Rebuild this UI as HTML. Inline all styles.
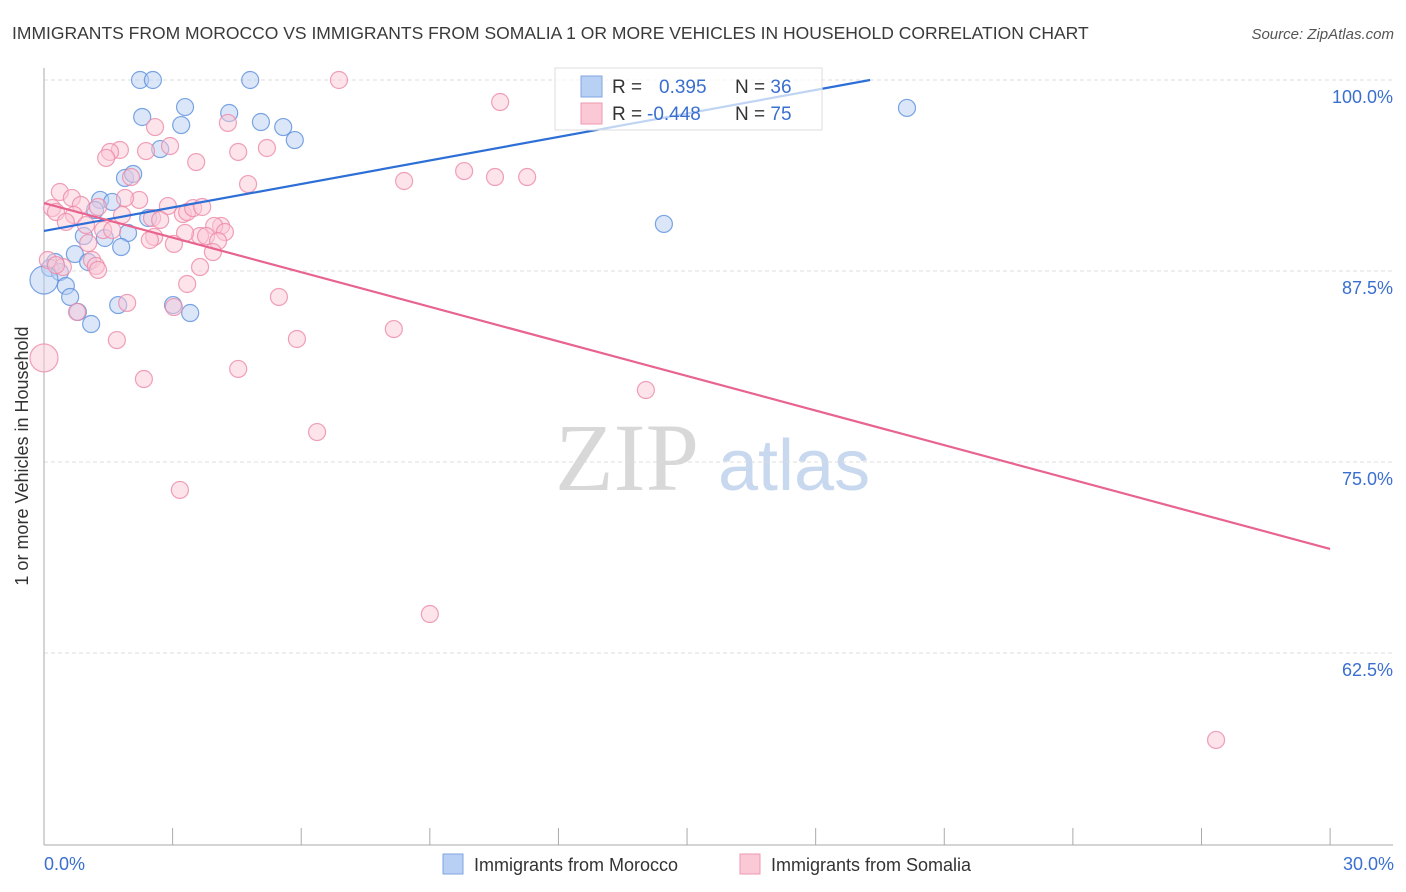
<!DOCTYPE html>
<html><head><meta charset="utf-8"><style>
body{margin:0;background:#fff;font-family:"Liberation Sans",sans-serif;}
svg{display:block}
</style></head><body>
<svg width="1406" height="892">
<text x="12" y="39" font-size="17.5" fill="#3a3a3a">IMMIGRANTS FROM MOROCCO VS IMMIGRANTS FROM SOMALIA 1 OR MORE VEHICLES IN HOUSEHOLD CORRELATION CHART</text>
<text x="1394" y="39" font-size="15" font-style="italic" fill="#555" text-anchor="end">Source: ZipAtlas.com</text>
<text x="555" y="490" font-size="96" font-family="Liberation Serif, serif" fill="#d8d8d8">ZIP</text>
<text x="718" y="490" font-size="72" fill="#c8d8ee">atlas</text>
<g id="grid"></g>
<g id="axes"></g>
<g id="pts"></g>
<g id="lines"></g>
<rect x="555" y="68" width="267" height="62" fill="#fff" fill-opacity="0.7" stroke="#ddd"/>
<rect x="581" y="76" width="21" height="21" fill="#b8d0f4" stroke="#7fa6e0"/>
<rect x="581" y="103" width="21" height="21" fill="#fbc8d6" stroke="#ec9ab2"/>
<text x="612" y="93" font-size="19" fill="#333">R = <tspan x="659" fill="#3a6fd0">0.395</tspan><tspan x="735" fill="#333">N = </tspan><tspan fill="#3a6fd0">36</tspan></text>
<text x="612" y="120" font-size="19" fill="#333">R = <tspan x="647" fill="#3a6fd0">-0.448</tspan><tspan x="735" fill="#333">N = </tspan><tspan fill="#3a6fd0">75</tspan></text>
<text x="22" y="456" font-size="18" fill="#333" transform="rotate(-90 22 456)" text-anchor="middle" dy="6">1 or more Vehicles in Household</text>
<text x="44" y="870" font-size="18" fill="#3a6fd0">0.0%</text>
<text x="1394" y="870" font-size="18" fill="#3a6fd0" text-anchor="end">30.0%</text>
<rect x="443" y="854" width="20" height="20" fill="#b8d0f4" stroke="#7fa6e0"/>
<text x="474" y="871" font-size="18" fill="#333">Immigrants from Morocco</text>
<rect x="740" y="854" width="20" height="20" fill="#fbc8d6" stroke="#ec9ab2"/>
<text x="771" y="871" font-size="18" fill="#333">Immigrants from Somalia</text>
</svg>
<script>
const yTicks=[100,87.5,75,62.5];
const yTickLabels=["100.0%","87.5%","75.0%","62.5%"];
const xTicks=[0,3,6,9,12,15,18,21,24,27,30];
const moroccoX=[2.24,2.54,4.81,3.29,2.29,4.32,3.20,5.06,5.58,5.85,2.71,1.89,2.08,1.31,1.59,1.19,2.43,1.96,0.93,1.42,1.80,0.72,0.26,0.14,0.37,1.03,0.51,0.61,0.79,1.73,3.01,3.41,1.10,14.46,20.13,0];
const moroccoY=[100,100,100,98.23,97.58,97.84,97.05,97.25,96.92,96.07,95.48,93.59,93.85,92.15,92.02,91.49,90.97,89.99,89.79,89.66,89.07,88.61,88.09,87.70,87.43,88.09,86.52,85.80,84.82,85.27,85.27,84.75,84.03,90.58,98.17,86.91];
const somaliaX=[6.88,10.64,2.59,4.29,2.94,2.38,1.77,1.54,1.45,3.55,4.53,5.20,4.76,8.40,9.80,10.52,11.27,2.03,0.37,0.65,0.19,0.28,0.86,1.26,2.22,1.89,2.89,2.52,0.70,0.51,0.98,1.38,1.82,2.71,3.24,3.34,3.48,3.69,4.13,3.97,4.22,3.64,3.29,3.78,2.57,2.47,3.03,4.06,3.94,1.03,1.12,1.21,1.26,0.44,3.64,3.34,5.48,1.94,0.77,3.03,1.70,5.90,8.16,4.53,2.33,14.04,6.37,3.17,9.00,27.34,0,0.09,0.28,1.59];
const somaliaY=[100,98.56,96.92,97.19,95.68,95.35,95.42,95.29,94.90,94.63,95.29,95.55,93.19,93.39,94.04,93.65,93.65,93.65,92.67,92.28,91.62,91.36,91.82,91.69,92.15,92.28,91.75,90.97,91.16,90.71,90.51,90.18,91.16,90.84,91.23,91.36,91.62,91.69,90.45,90.45,90.05,89.79,89.99,89.79,89.73,89.53,89.27,89.46,88.74,89.33,88.22,87.83,87.57,87.76,87.76,86.65,85.80,85.41,84.82,85.14,82.98,83.05,83.70,81.09,80.43,79.71,76.96,73.17,65.05,56.81,81.81,88.22,87.89,90.18];
const moroccoTrend=[0,90.12,19.27,100];
const somaliaTrend=[0,91.95,30,69.31];
const NS="http://www.w3.org/2000/svg";
const sx=v=>44+v*42.87, sy=v=>80+(100-v)*15.28;
function mk(p,t,a){const e=document.createElementNS(NS,t);for(const k in a)e.setAttribute(k,a[k]);document.getElementById(p).appendChild(e);return e;}
yTicks.forEach((v,i)=>{
 const g=mk('grid','line',{x1:44,x2:1393,y1:sy(v),y2:sy(v),stroke:'#dcdcdc','stroke-dasharray':'4,3'});
 
 
 const t=mk('grid','text',{x:1393,y:sy(v)+23,'font-size':18,fill:'#3a6fd0','text-anchor':'end'});
 t.textContent=yTickLabels[i];
 
 
});
let a=mk('axes','line',{x1:44,x2:44,y1:68,y2:845,stroke:'#aaa'});


a=mk('axes','line',{x1:44,x2:1393,y1:845,y2:845,stroke:'#aaa'});


xTicks.forEach(v=>{const t=mk('axes','line',{x1:sx(v),x2:sx(v),y1:828,y2:845,stroke:'#aaa'});
 
 });
function pts(X,Y,fill,stroke,name){X.forEach((x,i)=>{const big=(x===0);
 const c=mk('pts','circle',{cx:sx(x),cy:sy(Y[i]),r:big?14:8.5,fill:fill,'fill-opacity':0.5,stroke:stroke,'stroke-opacity':0.8,'stroke-width':1.2});
 
 });}
pts(moroccoX,moroccoY,'#b8d0f4','#5b8fdc','point-morocco');
pts(somaliaX,somaliaY,'#fbc8d6','#ec8aa8','point-somalia');
let l=mk('lines','line',{x1:sx(moroccoTrend[0]),y1:sy(moroccoTrend[1]),x2:sx(moroccoTrend[2]),y2:sy(moroccoTrend[3]),stroke:'#2d6fd6','stroke-width':2.2});


l=mk('lines','line',{x1:sx(somaliaTrend[0]),y1:sy(somaliaTrend[1]),x2:sx(somaliaTrend[2]),y2:sy(somaliaTrend[3]),stroke:'#e8648f','stroke-width':2.2});


</script>
</body></html>
